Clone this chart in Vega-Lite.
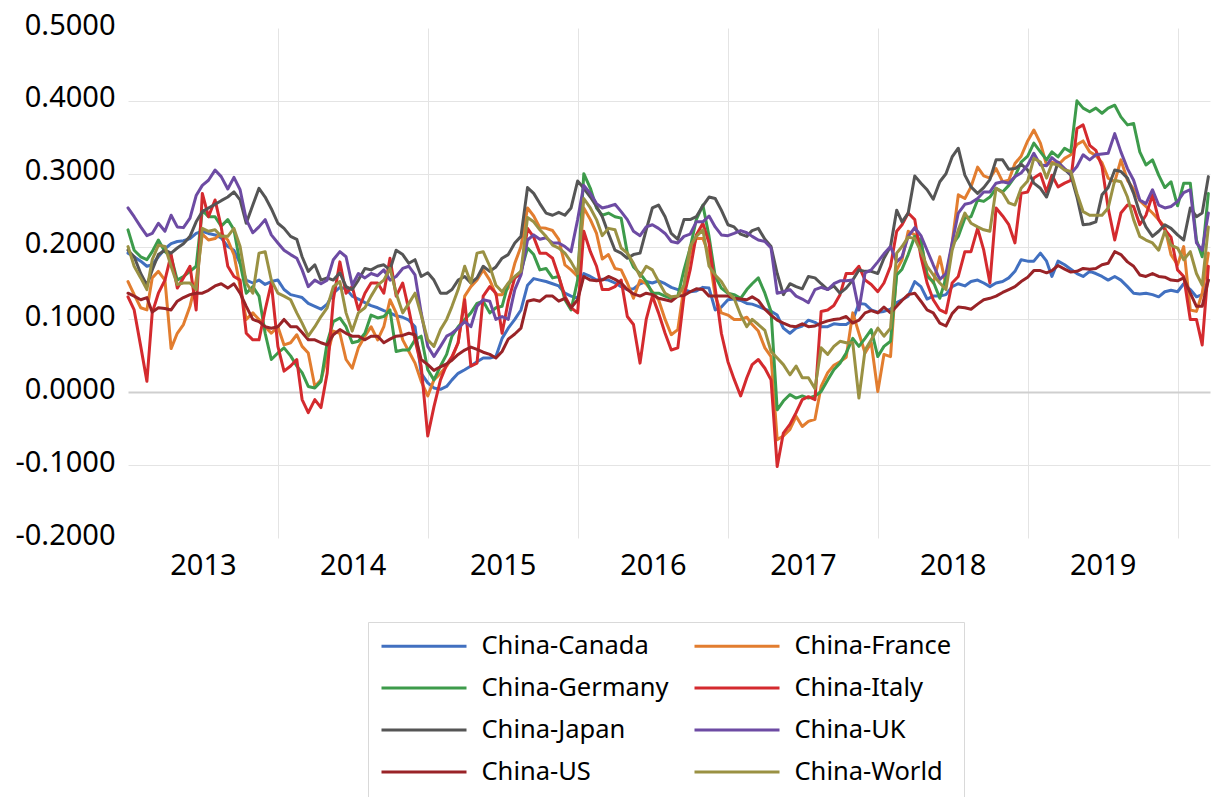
{
  "$schema": "https://vega.github.io/schema/vega-lite/v6.json",
  "width": 1082,
  "height": 510,
  "autosize": {"type": "none"},
  "padding": {"left": 128, "top": 28, "right": 7, "bottom": 259},
  "background": "white",
  "data": {"values": [
{"d":"2013-01-01","Canada":0.191,"France":0.152,"Germany":0.223,"Italy":0.131,"Japan":0.195,"UK":0.253,"US":0.136,"World":0.2},
{"d":"2013-01-16","Canada":0.186,"France":0.134,"Germany":0.195,"Italy":0.113,"Japan":0.186,"UK":0.241,"US":0.132,"World":0.173},
{"d":"2013-02-01","Canada":0.18,"France":0.116,"Germany":0.186,"Italy":0.063,"Japan":0.163,"UK":0.227,"US":0.127,"World":0.157},
{"d":"2013-02-16","Canada":0.173,"France":0.113,"Germany":0.182,"Italy":0.015,"Japan":0.147,"UK":0.215,"US":0.13,"World":0.141},
{"d":"2013-03-01","Canada":0.175,"France":0.157,"Germany":0.193,"Italy":0.109,"Japan":0.168,"UK":0.218,"US":0.11,"World":0.182},
{"d":"2013-03-16","Canada":0.186,"France":0.166,"Germany":0.209,"Italy":0.136,"Japan":0.189,"UK":0.232,"US":0.116,"World":0.202},
{"d":"2013-04-01","Canada":0.197,"France":0.154,"Germany":0.193,"Italy":0.154,"Japan":0.195,"UK":0.221,"US":0.115,"World":0.2},
{"d":"2013-04-16","Canada":0.204,"France":0.06,"Germany":0.186,"Italy":0.189,"Japan":0.191,"UK":0.243,"US":0.113,"World":0.173},
{"d":"2013-05-01","Canada":0.207,"France":0.081,"Germany":0.154,"Italy":0.143,"Japan":0.198,"UK":0.227,"US":0.125,"World":0.148},
{"d":"2013-05-16","Canada":0.208,"France":0.093,"Germany":0.159,"Italy":0.157,"Japan":0.204,"UK":0.226,"US":0.13,"World":0.15},
{"d":"2013-06-01","Canada":0.211,"France":0.118,"Germany":0.166,"Italy":0.173,"Japan":0.214,"UK":0.239,"US":0.134,"World":0.15},
{"d":"2013-06-16","Canada":0.218,"France":0.154,"Germany":0.173,"Italy":0.113,"Japan":0.234,"UK":0.27,"US":0.136,"World":0.141},
{"d":"2013-07-01","Canada":0.221,"France":0.217,"Germany":0.25,"Italy":0.273,"Japan":0.248,"UK":0.284,"US":0.136,"World":0.225},
{"d":"2013-07-16","Canada":0.218,"France":0.209,"Germany":0.241,"Italy":0.241,"Japan":0.253,"UK":0.291,"US":0.14,"World":0.221},
{"d":"2013-08-01","Canada":0.216,"France":0.211,"Germany":0.241,"Italy":0.264,"Japan":0.258,"UK":0.305,"US":0.146,"World":0.223},
{"d":"2013-08-16","Canada":0.212,"France":0.218,"Germany":0.228,"Italy":0.227,"Japan":0.263,"UK":0.296,"US":0.149,"World":0.214},
{"d":"2013-09-01","Canada":0.2,"France":0.209,"Germany":0.237,"Italy":0.173,"Japan":0.268,"UK":0.279,"US":0.143,"World":0.214},
{"d":"2013-09-16","Canada":0.195,"France":0.189,"Germany":0.223,"Italy":0.159,"Japan":0.275,"UK":0.295,"US":0.149,"World":0.225},
{"d":"2013-10-01","Canada":0.177,"France":0.145,"Germany":0.177,"Italy":0.154,"Japan":0.264,"UK":0.278,"US":0.136,"World":0.2},
{"d":"2013-10-16","Canada":0.154,"France":0.1,"Germany":0.136,"Italy":0.081,"Japan":0.232,"UK":0.237,"US":0.118,"World":0.15},
{"d":"2013-11-01","Canada":0.15,"France":0.109,"Germany":0.145,"Italy":0.072,"Japan":0.257,"UK":0.219,"US":0.1,"World":0.136},
{"d":"2013-11-16","Canada":0.154,"France":0.1,"Germany":0.132,"Italy":0.072,"Japan":0.28,"UK":0.227,"US":0.097,"World":0.191},
{"d":"2013-12-01","Canada":0.148,"France":0.09,"Germany":0.081,"Italy":0.113,"Japan":0.268,"UK":0.237,"US":0.09,"World":0.193},
{"d":"2013-12-16","Canada":0.152,"France":0.081,"Germany":0.045,"Italy":0.15,"Japan":0.252,"UK":0.216,"US":0.088,"World":0.154},
{"d":"2014-01-01","Canada":0.154,"France":0.09,"Germany":0.054,"Italy":0.063,"Japan":0.232,"UK":0.205,"US":0.09,"World":0.136},
{"d":"2014-01-16","Canada":0.141,"France":0.065,"Germany":0.061,"Italy":0.029,"Japan":0.225,"UK":0.195,"US":0.1,"World":0.132},
{"d":"2014-02-01","Canada":0.134,"France":0.068,"Germany":0.05,"Italy":0.036,"Japan":0.214,"UK":0.189,"US":0.09,"World":0.127},
{"d":"2014-02-16","Canada":0.132,"France":0.079,"Germany":0.036,"Italy":0.045,"Japan":0.21,"UK":0.184,"US":0.09,"World":0.109},
{"d":"2014-03-01","Canada":0.13,"France":0.063,"Germany":0.027,"Italy":-0.01,"Japan":0.186,"UK":0.168,"US":0.082,"World":0.095},
{"d":"2014-03-16","Canada":0.122,"France":0.054,"Germany":0.008,"Italy":-0.028,"Japan":0.166,"UK":0.145,"US":0.072,"World":0.077},
{"d":"2014-04-01","Canada":0.118,"France":0.008,"Germany":0.006,"Italy":-0.01,"Japan":0.175,"UK":0.154,"US":0.072,"World":0.09},
{"d":"2014-04-16","Canada":0.114,"France":0.017,"Germany":0.015,"Italy":-0.021,"Japan":0.154,"UK":0.149,"US":0.068,"World":0.104},
{"d":"2014-05-01","Canada":0.121,"France":0.049,"Germany":0.068,"Italy":0.026,"Japan":0.157,"UK":0.154,"US":0.065,"World":0.116},
{"d":"2014-05-16","Canada":0.136,"France":0.084,"Germany":0.097,"Italy":0.127,"Japan":0.154,"UK":0.182,"US":0.079,"World":0.145},
{"d":"2014-06-01","Canada":0.144,"France":0.081,"Germany":0.102,"Italy":0.179,"Japan":0.164,"UK":0.193,"US":0.086,"World":0.152},
{"d":"2014-06-16","Canada":0.142,"France":0.045,"Germany":0.09,"Italy":0.136,"Japan":0.145,"UK":0.186,"US":0.081,"World":0.109},
{"d":"2014-07-01","Canada":0.132,"France":0.033,"Germany":0.068,"Italy":0.145,"Japan":0.141,"UK":0.147,"US":0.077,"World":0.084},
{"d":"2014-07-16","Canada":0.128,"France":0.061,"Germany":0.07,"Italy":0.113,"Japan":0.154,"UK":0.163,"US":0.077,"World":0.109},
{"d":"2014-08-01","Canada":0.123,"France":0.077,"Germany":0.081,"Italy":0.136,"Japan":0.17,"UK":0.157,"US":0.072,"World":0.116},
{"d":"2014-08-16","Canada":0.119,"France":0.09,"Germany":0.106,"Italy":0.15,"Japan":0.168,"UK":0.163,"US":0.077,"World":0.132},
{"d":"2014-09-01","Canada":0.116,"France":0.072,"Germany":0.102,"Italy":0.15,"Japan":0.173,"UK":0.16,"US":0.077,"World":0.147},
{"d":"2014-09-16","Canada":0.112,"France":0.09,"Germany":0.104,"Italy":0.136,"Japan":0.175,"UK":0.168,"US":0.068,"World":0.154},
{"d":"2014-10-01","Canada":0.109,"France":0.127,"Germany":0.113,"Italy":0.184,"Japan":0.168,"UK":0.154,"US":0.073,"World":0.17},
{"d":"2014-10-16","Canada":0.105,"France":0.109,"Germany":0.056,"Italy":0.132,"Japan":0.195,"UK":0.159,"US":0.077,"World":0.136},
{"d":"2014-11-01","Canada":0.103,"France":0.072,"Germany":0.058,"Italy":0.15,"Japan":0.189,"UK":0.17,"US":0.078,"World":0.109},
{"d":"2014-11-16","Canada":0.099,"France":0.056,"Germany":0.058,"Italy":0.113,"Japan":0.177,"UK":0.173,"US":0.081,"World":0.122},
{"d":"2014-12-01","Canada":0.09,"France":0.04,"Germany":0.072,"Italy":0.072,"Japan":0.182,"UK":0.161,"US":0.079,"World":0.136},
{"d":"2014-12-16","Canada":0.026,"France":0.015,"Germany":0.077,"Italy":0.036,"Japan":0.159,"UK":0.109,"US":0.045,"World":0.106},
{"d":"2015-01-01","Canada":0.013,"France":-0.005,"Germany":0.031,"Italy":-0.06,"Japan":0.164,"UK":0.063,"US":0.038,"World":0.072},
{"d":"2015-01-16","Canada":0.006,"France":0.017,"Germany":0.017,"Italy":-0.02,"Japan":0.154,"UK":0.049,"US":0.03,"World":0.063},
{"d":"2015-02-01","Canada":0.004,"France":0.026,"Germany":0.036,"Italy":0.017,"Japan":0.136,"UK":0.063,"US":0.035,"World":0.086},
{"d":"2015-02-16","Canada":0.008,"France":0.036,"Germany":0.052,"Italy":0.038,"Japan":0.136,"UK":0.077,"US":0.039,"World":0.1},
{"d":"2015-03-01","Canada":0.017,"France":0.047,"Germany":0.077,"Italy":0.049,"Japan":0.141,"UK":0.081,"US":0.044,"World":0.118},
{"d":"2015-03-16","Canada":0.026,"France":0.068,"Germany":0.09,"Italy":0.068,"Japan":0.154,"UK":0.088,"US":0.052,"World":0.141},
{"d":"2015-04-01","Canada":0.031,"France":0.132,"Germany":0.1,"Italy":0.127,"Japan":0.159,"UK":0.097,"US":0.058,"World":0.173},
{"d":"2015-04-16","Canada":0.036,"France":0.145,"Germany":0.109,"Italy":0.036,"Japan":0.15,"UK":0.09,"US":0.062,"World":0.15},
{"d":"2015-05-01","Canada":0.042,"France":0.154,"Germany":0.122,"Italy":0.04,"Japan":0.157,"UK":0.118,"US":0.059,"World":0.191},
{"d":"2015-05-16","Canada":0.047,"France":0.168,"Germany":0.125,"Italy":0.132,"Japan":0.173,"UK":0.127,"US":0.055,"World":0.193},
{"d":"2015-06-01","Canada":0.047,"France":0.154,"Germany":0.109,"Italy":0.145,"Japan":0.166,"UK":0.125,"US":0.052,"World":0.173},
{"d":"2015-06-16","Canada":0.049,"France":0.134,"Germany":0.116,"Italy":0.136,"Japan":0.172,"UK":0.1,"US":0.047,"World":0.147},
{"d":"2015-07-01","Canada":0.074,"France":0.134,"Germany":0.118,"Italy":0.081,"Japan":0.184,"UK":0.104,"US":0.056,"World":0.138},
{"d":"2015-07-16","Canada":0.088,"France":0.143,"Germany":0.149,"Italy":0.125,"Japan":0.189,"UK":0.1,"US":0.073,"World":0.15},
{"d":"2015-08-01","Canada":0.1,"France":0.177,"Germany":0.157,"Italy":0.157,"Japan":0.205,"UK":0.141,"US":0.08,"World":0.159},
{"d":"2015-08-16","Canada":0.113,"France":0.2,"Germany":0.166,"Italy":0.163,"Japan":0.214,"UK":0.161,"US":0.088,"World":0.166},
{"d":"2015-09-01","Canada":0.147,"France":0.253,"Germany":0.198,"Italy":0.225,"Japan":0.281,"UK":0.209,"US":0.125,"World":0.24},
{"d":"2015-09-16","Canada":0.156,"France":0.242,"Germany":0.189,"Italy":0.213,"Japan":0.273,"UK":0.216,"US":0.127,"World":0.234},
{"d":"2015-10-01","Canada":0.154,"France":0.226,"Germany":0.168,"Italy":0.191,"Japan":0.259,"UK":0.21,"US":0.125,"World":0.223},
{"d":"2015-10-16","Canada":0.152,"France":0.225,"Germany":0.17,"Italy":0.191,"Japan":0.246,"UK":0.212,"US":0.132,"World":0.214},
{"d":"2015-11-01","Canada":0.149,"France":0.222,"Germany":0.157,"Italy":0.184,"Japan":0.243,"UK":0.205,"US":0.132,"World":0.202},
{"d":"2015-11-16","Canada":0.146,"France":0.21,"Germany":0.159,"Italy":0.159,"Japan":0.247,"UK":0.205,"US":0.125,"World":0.198},
{"d":"2015-12-01","Canada":0.136,"France":0.175,"Germany":0.127,"Italy":0.132,"Japan":0.243,"UK":0.2,"US":0.129,"World":0.191},
{"d":"2015-12-16","Canada":0.132,"France":0.168,"Germany":0.113,"Italy":0.116,"Japan":0.253,"UK":0.193,"US":0.116,"World":0.179},
{"d":"2016-01-01","Canada":0.129,"France":0.159,"Germany":0.154,"Italy":0.109,"Japan":0.29,"UK":0.237,"US":0.127,"World":0.163},
{"d":"2016-01-16","Canada":0.163,"France":0.253,"Germany":0.3,"Italy":0.221,"Japan":0.28,"UK":0.284,"US":0.159,"World":0.266},
{"d":"2016-02-01","Canada":0.159,"France":0.237,"Germany":0.28,"Italy":0.193,"Japan":0.268,"UK":0.273,"US":0.154,"World":0.253},
{"d":"2016-02-16","Canada":0.154,"France":0.218,"Germany":0.253,"Italy":0.173,"Japan":0.255,"UK":0.259,"US":0.153,"World":0.237},
{"d":"2016-03-01","Canada":0.155,"France":0.183,"Germany":0.243,"Italy":0.141,"Japan":0.241,"UK":0.253,"US":0.154,"World":0.215},
{"d":"2016-03-16","Canada":0.154,"France":0.189,"Germany":0.246,"Italy":0.141,"Japan":0.218,"UK":0.255,"US":0.159,"World":0.225},
{"d":"2016-04-01","Canada":0.15,"France":0.17,"Germany":0.241,"Italy":0.145,"Japan":0.195,"UK":0.258,"US":0.155,"World":0.223},
{"d":"2016-04-16","Canada":0.145,"France":0.168,"Germany":0.239,"Italy":0.154,"Japan":0.191,"UK":0.248,"US":0.15,"World":0.198},
{"d":"2016-05-01","Canada":0.141,"France":0.15,"Germany":0.191,"Italy":0.104,"Japan":0.184,"UK":0.237,"US":0.141,"World":0.191},
{"d":"2016-05-16","Canada":0.142,"France":0.129,"Germany":0.172,"Italy":0.093,"Japan":0.189,"UK":0.221,"US":0.135,"World":0.177},
{"d":"2016-06-01","Canada":0.149,"France":0.154,"Germany":0.163,"Italy":0.04,"Japan":0.191,"UK":0.215,"US":0.132,"World":0.159},
{"d":"2016-06-16","Canada":0.152,"France":0.149,"Germany":0.152,"Italy":0.1,"Japan":0.223,"UK":0.227,"US":0.136,"World":0.173},
{"d":"2016-07-01","Canada":0.15,"France":0.138,"Germany":0.136,"Italy":0.132,"Japan":0.253,"UK":0.23,"US":0.134,"World":0.168},
{"d":"2016-07-16","Canada":0.153,"France":0.127,"Germany":0.136,"Italy":0.109,"Japan":0.257,"UK":0.225,"US":0.129,"World":0.152},
{"d":"2016-08-01","Canada":0.149,"France":0.1,"Germany":0.132,"Italy":0.081,"Japan":0.241,"UK":0.218,"US":0.127,"World":0.136},
{"d":"2016-08-16","Canada":0.144,"France":0.079,"Germany":0.129,"Italy":0.058,"Japan":0.218,"UK":0.207,"US":0.125,"World":0.131},
{"d":"2016-09-01","Canada":0.141,"France":0.086,"Germany":0.132,"Italy":0.061,"Japan":0.21,"UK":0.205,"US":0.132,"World":0.132},
{"d":"2016-09-16","Canada":0.141,"France":0.145,"Germany":0.168,"Italy":0.132,"Japan":0.237,"UK":0.214,"US":0.133,"World":0.147},
{"d":"2016-10-01","Canada":0.138,"France":0.189,"Germany":0.198,"Italy":0.168,"Japan":0.237,"UK":0.217,"US":0.138,"World":0.2},
{"d":"2016-10-16","Canada":0.139,"France":0.211,"Germany":0.237,"Italy":0.216,"Japan":0.241,"UK":0.234,"US":0.142,"World":0.214},
{"d":"2016-11-01","Canada":0.144,"France":0.211,"Germany":0.257,"Italy":0.232,"Japan":0.256,"UK":0.234,"US":0.141,"World":0.223},
{"d":"2016-11-16","Canada":0.143,"France":0.189,"Germany":0.214,"Italy":0.205,"Japan":0.268,"UK":0.242,"US":0.132,"World":0.173},
{"d":"2016-12-01","Canada":0.113,"France":0.132,"Germany":0.159,"Italy":0.143,"Japan":0.266,"UK":0.227,"US":0.132,"World":0.161},
{"d":"2016-12-16","Canada":0.117,"France":0.109,"Germany":0.143,"Italy":0.081,"Japan":0.25,"UK":0.216,"US":0.132,"World":0.152},
{"d":"2017-01-01","Canada":0.127,"France":0.106,"Germany":0.136,"Italy":0.042,"Japan":0.23,"UK":0.215,"US":0.132,"World":0.137},
{"d":"2017-01-16","Canada":0.128,"France":0.1,"Germany":0.134,"Italy":0.018,"Japan":0.227,"UK":0.218,"US":0.129,"World":0.129},
{"d":"2017-02-01","Canada":0.126,"France":0.1,"Germany":0.129,"Italy":-0.005,"Japan":0.217,"UK":0.222,"US":0.128,"World":0.106},
{"d":"2017-02-16","Canada":0.122,"France":0.103,"Germany":0.141,"Italy":0.02,"Japan":0.214,"UK":0.219,"US":0.127,"World":0.09},
{"d":"2017-03-01","Canada":0.121,"France":0.093,"Germany":0.149,"Italy":0.038,"Japan":0.222,"UK":0.214,"US":0.131,"World":0.1},
{"d":"2017-03-16","Canada":0.118,"France":0.084,"Germany":0.157,"Italy":0.045,"Japan":0.225,"UK":0.209,"US":0.126,"World":0.093},
{"d":"2017-04-01","Canada":0.114,"France":0.061,"Germany":0.136,"Italy":0.033,"Japan":0.21,"UK":0.207,"US":0.114,"World":0.085},
{"d":"2017-04-16","Canada":0.111,"France":0.049,"Germany":0.111,"Italy":0.017,"Japan":0.2,"UK":0.198,"US":0.106,"World":0.056},
{"d":"2017-05-01","Canada":0.106,"France":-0.065,"Germany":-0.024,"Italy":-0.102,"Japan":0.163,"UK":0.136,"US":0.099,"World":0.047},
{"d":"2017-05-16","Canada":0.088,"France":-0.06,"Germany":-0.012,"Italy":-0.056,"Japan":0.134,"UK":0.138,"US":0.095,"World":0.038},
{"d":"2017-06-01","Canada":0.081,"France":-0.051,"Germany":-0.003,"Italy":-0.044,"Japan":0.149,"UK":0.141,"US":0.091,"World":0.024},
{"d":"2017-06-16","Canada":0.088,"France":-0.033,"Germany":-0.008,"Italy":-0.028,"Japan":0.145,"UK":0.132,"US":0.09,"World":0.036},
{"d":"2017-07-01","Canada":0.091,"France":-0.047,"Germany":-0.005,"Italy":-0.01,"Japan":0.142,"UK":0.128,"US":0.094,"World":0.02},
{"d":"2017-07-16","Canada":0.099,"France":-0.04,"Germany":-0.008,"Italy":-0.006,"Japan":0.159,"UK":0.123,"US":0.09,"World":0.02},
{"d":"2017-08-01","Canada":0.096,"France":-0.037,"Germany":-0.005,"Italy":-0.01,"Japan":0.157,"UK":0.141,"US":0.091,"World":0.005},
{"d":"2017-08-16","Canada":0.09,"France":0.008,"Germany":0.001,"Italy":0.111,"Japan":0.149,"UK":0.144,"US":0.095,"World":0.061},
{"d":"2017-09-01","Canada":0.09,"France":0.027,"Germany":0.017,"Italy":0.113,"Japan":0.141,"UK":0.141,"US":0.098,"World":0.052},
{"d":"2017-09-16","Canada":0.094,"France":0.037,"Germany":0.031,"Italy":0.119,"Japan":0.146,"UK":0.149,"US":0.1,"World":0.063},
{"d":"2017-10-01","Canada":0.093,"France":0.042,"Germany":0.04,"Italy":0.134,"Japan":0.136,"UK":0.153,"US":0.101,"World":0.07},
{"d":"2017-10-16","Canada":0.093,"France":0.048,"Germany":0.054,"Italy":0.163,"Japan":0.143,"UK":0.153,"US":0.104,"World":0.068},
{"d":"2017-11-01","Canada":0.099,"France":0.109,"Germany":0.074,"Italy":0.163,"Japan":0.154,"UK":0.154,"US":0.095,"World":0.068},
{"d":"2017-11-16","Canada":0.122,"France":0.081,"Germany":0.063,"Italy":0.173,"Japan":0.168,"UK":0.113,"US":0.099,"World":-0.008},
{"d":"2017-12-01","Canada":0.121,"France":0.054,"Germany":0.074,"Italy":0.154,"Japan":0.166,"UK":0.164,"US":0.109,"World":0.058},
{"d":"2017-12-16","Canada":0.113,"France":0.068,"Germany":0.086,"Italy":0.148,"Japan":0.166,"UK":0.168,"US":0.112,"World":0.072},
{"d":"2018-01-01","Canada":0.11,"France":0.001,"Germany":0.049,"Italy":0.138,"Japan":0.163,"UK":0.179,"US":0.109,"World":0.088},
{"d":"2018-01-16","Canada":0.111,"France":0.052,"Germany":0.063,"Italy":0.15,"Japan":0.184,"UK":0.19,"US":0.117,"World":0.077},
{"d":"2018-02-01","Canada":0.114,"France":0.049,"Germany":0.07,"Italy":0.173,"Japan":0.2,"UK":0.2,"US":0.109,"World":0.088},
{"d":"2018-02-16","Canada":0.123,"France":0.168,"Germany":0.161,"Italy":0.221,"Japan":0.25,"UK":0.179,"US":0.118,"World":0.191},
{"d":"2018-03-01","Canada":0.127,"France":0.182,"Germany":0.169,"Italy":0.23,"Japan":0.234,"UK":0.186,"US":0.126,"World":0.2},
{"d":"2018-03-16","Canada":0.132,"France":0.221,"Germany":0.189,"Italy":0.246,"Japan":0.246,"UK":0.214,"US":0.134,"World":0.213},
{"d":"2018-04-01","Canada":0.152,"France":0.216,"Germany":0.214,"Italy":0.237,"Japan":0.297,"UK":0.226,"US":0.136,"World":0.211},
{"d":"2018-04-16","Canada":0.145,"France":0.207,"Germany":0.209,"Italy":0.186,"Japan":0.287,"UK":0.215,"US":0.125,"World":0.193},
{"d":"2018-05-01","Canada":0.128,"France":0.163,"Germany":0.159,"Italy":0.15,"Japan":0.278,"UK":0.195,"US":0.113,"World":0.173},
{"d":"2018-05-16","Canada":0.132,"France":0.15,"Germany":0.152,"Italy":0.127,"Japan":0.265,"UK":0.175,"US":0.109,"World":0.161},
{"d":"2018-06-01","Canada":0.132,"France":0.186,"Germany":0.129,"Italy":0.113,"Japan":0.289,"UK":0.155,"US":0.095,"World":0.15},
{"d":"2018-06-16","Canada":0.134,"France":0.147,"Germany":0.157,"Italy":0.109,"Japan":0.3,"UK":0.163,"US":0.091,"World":0.141},
{"d":"2018-07-01","Canada":0.145,"France":0.205,"Germany":0.202,"Italy":0.15,"Japan":0.323,"UK":0.205,"US":0.108,"World":0.195},
{"d":"2018-07-16","Canada":0.149,"France":0.271,"Germany":0.214,"Italy":0.159,"Japan":0.335,"UK":0.246,"US":0.117,"World":0.223},
{"d":"2018-08-01","Canada":0.146,"France":0.266,"Germany":0.239,"Italy":0.193,"Japan":0.298,"UK":0.258,"US":0.116,"World":0.246},
{"d":"2018-08-16","Canada":0.152,"France":0.282,"Germany":0.241,"Italy":0.193,"Japan":0.282,"UK":0.26,"US":0.114,"World":0.232},
{"d":"2018-09-01","Canada":0.154,"France":0.309,"Germany":0.264,"Italy":0.225,"Japan":0.273,"UK":0.266,"US":0.121,"World":0.227},
{"d":"2018-09-16","Canada":0.15,"France":0.297,"Germany":0.262,"Italy":0.195,"Japan":0.281,"UK":0.275,"US":0.127,"World":0.223},
{"d":"2018-10-01","Canada":0.145,"France":0.294,"Germany":0.268,"Italy":0.15,"Japan":0.292,"UK":0.275,"US":0.129,"World":0.221},
{"d":"2018-10-16","Canada":0.15,"France":0.307,"Germany":0.28,"Italy":0.253,"Japan":0.319,"UK":0.287,"US":0.132,"World":0.28},
{"d":"2018-11-01","Canada":0.152,"France":0.289,"Germany":0.275,"Italy":0.242,"Japan":0.319,"UK":0.289,"US":0.137,"World":0.274},
{"d":"2018-11-16","Canada":0.157,"France":0.291,"Germany":0.284,"Italy":0.23,"Japan":0.306,"UK":0.287,"US":0.141,"World":0.26},
{"d":"2018-12-01","Canada":0.166,"France":0.314,"Germany":0.296,"Italy":0.205,"Japan":0.307,"UK":0.296,"US":0.145,"World":0.257},
{"d":"2018-12-16","Canada":0.182,"France":0.324,"Germany":0.316,"Italy":0.273,"Japan":0.313,"UK":0.301,"US":0.152,"World":0.28},
{"d":"2019-01-01","Canada":0.18,"France":0.345,"Germany":0.324,"Italy":0.275,"Japan":0.305,"UK":0.312,"US":0.158,"World":0.29},
{"d":"2019-01-16","Canada":0.18,"France":0.36,"Germany":0.342,"Italy":0.294,"Japan":0.287,"UK":0.328,"US":0.167,"World":0.321},
{"d":"2019-02-01","Canada":0.191,"France":0.342,"Germany":0.33,"Italy":0.3,"Japan":0.28,"UK":0.312,"US":0.167,"World":0.316},
{"d":"2019-02-16","Canada":0.18,"France":0.312,"Germany":0.319,"Italy":0.275,"Japan":0.268,"UK":0.311,"US":0.164,"World":0.294},
{"d":"2019-03-01","Canada":0.159,"France":0.316,"Germany":0.33,"Italy":0.298,"Japan":0.289,"UK":0.322,"US":0.167,"World":0.314},
{"d":"2019-03-16","Canada":0.18,"France":0.312,"Germany":0.323,"Italy":0.282,"Japan":0.316,"UK":0.315,"US":0.174,"World":0.312},
{"d":"2019-04-01","Canada":0.175,"France":0.321,"Germany":0.335,"Italy":0.287,"Japan":0.306,"UK":0.307,"US":0.169,"World":0.305},
{"d":"2019-04-16","Canada":0.169,"France":0.326,"Germany":0.33,"Italy":0.291,"Japan":0.298,"UK":0.3,"US":0.165,"World":0.303},
{"d":"2019-05-01","Canada":0.163,"France":0.34,"Germany":0.4,"Italy":0.362,"Japan":0.268,"UK":0.31,"US":0.166,"World":0.273},
{"d":"2019-05-16","Canada":0.159,"France":0.345,"Germany":0.39,"Italy":0.367,"Japan":0.23,"UK":0.326,"US":0.17,"World":0.248},
{"d":"2019-06-01","Canada":0.166,"France":0.33,"Germany":0.385,"Italy":0.339,"Japan":0.231,"UK":0.319,"US":0.169,"World":0.243},
{"d":"2019-06-16","Canada":0.163,"France":0.325,"Germany":0.39,"Italy":0.332,"Japan":0.234,"UK":0.326,"US":0.17,"World":0.243},
{"d":"2019-07-01","Canada":0.159,"France":0.315,"Germany":0.383,"Italy":0.31,"Japan":0.271,"UK":0.327,"US":0.175,"World":0.243},
{"d":"2019-07-16","Canada":0.154,"France":0.294,"Germany":0.39,"Italy":0.253,"Japan":0.281,"UK":0.328,"US":0.177,"World":0.253},
{"d":"2019-08-01","Canada":0.159,"France":0.289,"Germany":0.394,"Italy":0.209,"Japan":0.305,"UK":0.355,"US":0.193,"World":0.291},
{"d":"2019-08-16","Canada":0.154,"France":0.319,"Germany":0.378,"Italy":0.246,"Japan":0.303,"UK":0.33,"US":0.189,"World":0.289},
{"d":"2019-09-01","Canada":0.145,"France":0.291,"Germany":0.367,"Italy":0.257,"Japan":0.294,"UK":0.307,"US":0.179,"World":0.268},
{"d":"2019-09-16","Canada":0.136,"France":0.279,"Germany":0.369,"Italy":0.255,"Japan":0.273,"UK":0.291,"US":0.173,"World":0.237},
{"d":"2019-10-01","Canada":0.135,"France":0.263,"Germany":0.33,"Italy":0.23,"Japan":0.246,"UK":0.264,"US":0.161,"World":0.214},
{"d":"2019-10-16","Canada":0.136,"France":0.255,"Germany":0.312,"Italy":0.243,"Japan":0.227,"UK":0.259,"US":0.159,"World":0.209},
{"d":"2019-11-01","Canada":0.134,"France":0.246,"Germany":0.319,"Italy":0.271,"Japan":0.214,"UK":0.278,"US":0.163,"World":0.205},
{"d":"2019-11-16","Canada":0.131,"France":0.237,"Germany":0.298,"Italy":0.237,"Japan":0.221,"UK":0.257,"US":0.159,"World":0.195},
{"d":"2019-12-01","Canada":0.138,"France":0.227,"Germany":0.281,"Italy":0.223,"Japan":0.23,"UK":0.253,"US":0.158,"World":0.221},
{"d":"2019-12-16","Canada":0.14,"France":0.189,"Germany":0.289,"Italy":0.213,"Japan":0.225,"UK":0.255,"US":0.154,"World":0.202},
{"d":"2020-01-01","Canada":0.138,"France":0.175,"Germany":0.256,"Italy":0.168,"Japan":0.216,"UK":0.262,"US":0.153,"World":0.198},
{"d":"2020-01-16","Canada":0.149,"France":0.2,"Germany":0.287,"Italy":0.159,"Japan":0.209,"UK":0.274,"US":0.157,"World":0.182},
{"d":"2020-02-01","Canada":0.141,"France":0.113,"Germany":0.287,"Italy":0.1,"Japan":0.253,"UK":0.278,"US":0.136,"World":0.193},
{"d":"2020-02-16","Canada":0.131,"France":0.111,"Germany":0.209,"Italy":0.1,"Japan":0.241,"UK":0.205,"US":0.118,"World":0.163},
{"d":"2020-03-01","Canada":0.134,"France":0.136,"Germany":0.186,"Italy":0.065,"Japan":0.246,"UK":0.195,"US":0.118,"World":0.147},
{"d":"2020-03-16","Canada":0.154,"France":0.191,"Germany":0.273,"Italy":0.173,"Japan":0.296,"UK":0.246,"US":0.154,"World":0.227}
  ]},
  "transform": [
    {"fold": ["Canada", "France", "Germany", "Italy", "Japan", "UK", "US", "World"], "as": ["country", "value"]}
  ],
  "mark": {"type": "line", "strokeWidth": 3, "strokeJoin": "round", "strokeCap": "round"},
  "encoding": {
    "x": {
      "field": "d",
      "type": "temporal",
      "scale": {
        "type": "utc",
        "domain": [
          {"year": 2013, "month": 1, "date": 1, "utc": true},
          {"year": 2020, "month": 3, "date": 20, "utc": true}
        ]
      },
      "axis": {
        "title": null,
        "values": [
          {"year": 2014, "month": 1, "date": 1, "utc": true},
          {"year": 2015, "month": 1, "date": 1, "utc": true},
          {"year": 2016, "month": 1, "date": 1, "utc": true},
          {"year": 2017, "month": 1, "date": 1, "utc": true},
          {"year": 2018, "month": 1, "date": 1, "utc": true},
          {"year": 2019, "month": 1, "date": 1, "utc": true},
          {"year": 2020, "month": 1, "date": 1, "utc": true}
        ],
        "labelExpr": "'' + (utcyear(datum.value) - 1)",
        "labelOffset": -75,
        "labelFlush": false,
        "labelOverlap": false,
        "labelFont": "Noto Sans",
        "labelFontSize": 29,
        "labelColor": "#000000",
        "labelPadding": 13,
        "domain": false,
        "ticks": false,
        "tickSize": 0,
        "grid": true,
        "gridColor": "#E4E4E4",
        "gridWidth": 1
      }
    },
    "y": {
      "field": "value",
      "type": "quantitative",
      "scale": {"domain": [-0.2, 0.5], "nice": false, "zero": false},
      "axis": {
        "title": null,
        "values": [-0.2, -0.1, 0, 0.1, 0.2, 0.3, 0.4, 0.5],
        "format": ".4f",
        "labelExpr": "replace(datum.label, '\u2212', '-')",
        "labelFont": "Noto Sans",
        "labelFontSize": 29,
        "labelColor": "#000000",
        "labelPadding": 13,
        "labelOffset": -3,
        "domain": false,
        "ticks": false,
        "tickSize": 0,
        "grid": true,
        "gridColor": {"condition": {"test": "datum.value === 0", "value": "#CFCFCF"}, "value": "#E4E4E4"},
        "gridWidth": {"condition": {"test": "datum.value === 0", "value": 2}, "value": 1},
        "gridOpacity": {"condition": {"test": "datum.value < -0.15 || datum.value > 0.45", "value": 0}, "value": 1}
      }
    },
    "color": {
      "field": "country",
      "type": "nominal",
      "scale": {
        "domain": ["Canada", "France", "Germany", "Italy", "Japan", "UK", "US", "World"],
        "range": ["#4170C0", "#E27D2F", "#3D9B4B", "#D42A2E", "#555555", "#6D4BA3", "#992327", "#9A9143"]
      },
      "legend": {
        "title": null,
        "orient": "none",
        "legendX": 240,
        "legendY": 594,
        "columns": 2,
        "direction": "horizontal",
        "symbolType": "stroke",
        "symbolSize": 7225,
        "symbolStrokeWidth": 3,
        "symbolOffset": 0,
        "clipHeight": 24,
        "rowPadding": 16,
        "columnPadding": 24,
        "padding": 12,
        "labelOffset": 13.5,
        "labelFont": "Noto Sans",
        "labelFontSize": 25.5,
        "labelColor": "#000000",
        "labelLimit": 400,
        "labelExpr": "'China-' + datum.label",
        "strokeColor": "#D9D9D9",
        "fillColor": "#FFFFFF"
      }
    }
  },
  "config": {
    "view": {"stroke": null},
    "font": "Noto Sans"
  }
}
